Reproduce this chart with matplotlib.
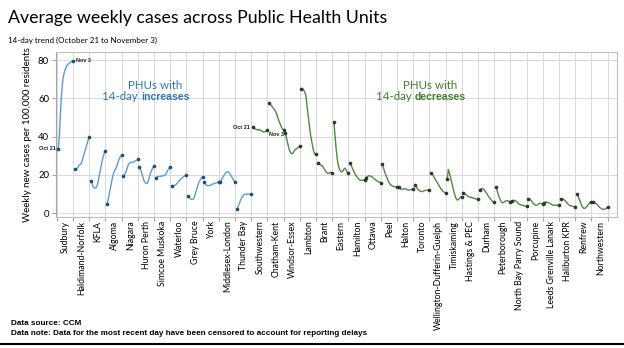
import matplotlib.pyplot as plt
from matplotlib.lines import Line2D
import numpy as np

plt.rcParams["font.family"] = ["Lato", "DejaVu Sans"]
BOLD_FAMILY = ["Liberation Sans", "DejaVu Sans"]

# PHUs with 14-day increases (Oct 21 .. Nov 3, weekly cases per 100k)
inc_phus = ["Sudbury", "Haldimand-Norfolk", "KFLA", "Algoma", "Niagara", "Huron Perth",
            "Simcoe Muskoka", "Waterloo", "Grey Bruce", "York", "Middlesex-London", "Thunder Bay"]
inc_trend = [
    [33.5, 42, 55, 64, 70, 73, 75, 76.5, 77.5, 78, 78.5, 79, 79.3, 79.5],
    [23, 22.5, 23, 24, 25, 25.3, 26, 28, 30, 32, 34, 36, 38, 40],
    [17, 15.5, 14, 13.2, 13, 13.5, 15, 18, 21, 24, 27, 29.5, 31.5, 32.6],
    [4.7, 7, 10, 13, 16, 19, 21, 22.5, 23.5, 25, 27, 28.5, 29.5, 30.3],
    [19.3, 19.8, 21, 22.5, 24.5, 25.8, 26.3, 26.5, 26.5, 26.7, 27, 27.3, 27.6, 28],
    [24.2, 23, 21, 19, 17, 16, 15.5, 15.6, 17, 19, 21, 22.5, 23.8, 24.6],
    [18.5, 18.8, 19, 19.2, 19.2, 19.3, 19.4, 19.5, 19.7, 20.2, 21.3, 22.5, 23.5, 24.2],
    [14.3, 14.3, 14.4, 14.6, 15, 15.8, 16.5, 17.2, 17.8, 18.3, 18.8, 19.2, 19.6, 19.9],
    [8.9, 8, 7.5, 7.2, 7.2, 7.5, 9, 11, 13, 15, 16.5, 17.5, 18.5, 19],
    [16.4, 15.2, 14.6, 14.3, 14.3, 14.4, 14.6, 15, 15.3, 15.5, 15.6, 15.8, 16.1, 16.4],
    [16.4, 17.5, 18.5, 19.5, 20.5, 21.2, 21.6, 21.5, 21, 20, 19, 18, 17, 16.4],
    [1.9, 3, 4.5, 6, 7.3, 8.5, 9.3, 9.8, 9.9, 9.9, 9.9, 9.9, 9.9, 9.9],
]

# PHUs with 14-day decreases
dec_phus = ["Southwestern", "Chatham-Kent", "Windsor-Essex", "Lambton", "Brant", "Eastern",
            "Hamilton", "Ottawa", "Peel", "Halton", "Toronto", "Wellington-Dufferin-Guelph",
            "Timiskaming", "Hastings & PEC", "Durham", "Peterborough", "North Bay Parry Sound",
            "Porcupine", "Leeds Grenville Lanark", "Haliburton KPR", "Renfrew", "Northwestern"]
dec_trend = [
    [44.8, 44.5, 44, 43.8, 43.5, 43.4, 43.6, 43.2, 42.8, 42.5, 42.4, 42.6, 43, 43.4],
    [57.7, 57, 56.2, 55.5, 54.7, 54, 53, 51.5, 49.5, 48, 46.5, 45, 44, 43.4],
    [42, 39.5, 37, 34.5, 32.5, 31.3, 31, 31.5, 32.5, 33.3, 33.5, 34, 34.5, 35],
    [64.7, 65.2, 64.3, 63, 61.5, 56, 51, 46, 41.5, 38, 35, 32, 31, 30.8],
    [26, 26.5, 25.5, 25, 24.8, 24, 23, 22, 21.2, 20.7, 20.8, 21.3, 21, 20.7],
    [47.7, 41, 34, 28.5, 25, 23, 22, 21.5, 22, 23, 23.5, 22.5, 21.3, 20.7],
    [26.3, 25, 23.5, 22.3, 21, 20, 19, 18.2, 17.6, 17.2, 17, 17.2, 17.3, 17.3],
    [18.5, 19, 19.4, 19.5, 19.3, 19, 18.5, 18, 17.5, 17, 16.7, 16.4, 16.1, 15.9],
    [25.4, 23.5, 21.5, 19.9, 18.5, 17, 15.8, 15, 14.5, 14.1, 13.9, 13.8, 13.6, 13.4],
    [13.4, 12.9, 12.5, 12.3, 12.5, 12.8, 12.7, 12.4, 12.1, 12, 12, 12.2, 12.4, 12.5],
    [14.8, 14, 13, 12.3, 11.8, 11.4, 11.2, 11.3, 11.6, 11.8, 11.9, 12, 12, 12],
    [21, 20.3, 19.5, 18.5, 17.5, 16.5, 15.5, 14.5, 13.5, 12.5, 11.8, 11.2, 10.8, 10.5],
    [17.6, 22.8, 21, 18.5, 16, 13.5, 11, 9, 7.5, 6.8, 7, 7.8, 8.3, 8.5],
    [10.6, 10.2, 9.7, 9.2, 8.8, 8.5, 8.3, 8.2, 8, 7.8, 7.6, 7.4, 7.3, 7.2],
    [12, 12.5, 12.9, 12.7, 12.2, 11.4, 10.5, 9.6, 8.7, 7.9, 7.1, 6.4, 5.9, 5.6],
    [13.8, 12, 10, 8.3, 6.8, 5.8, 5.4, 5.5, 6, 6.4, 6.5, 6.3, 6.1, 5.9],
    [6.2, 6.5, 6.7, 6.5, 6, 5.3, 4.8, 4.4, 4.2, 4.1, 4, 3.8, 3.6, 3.5],
    [7.3, 7.5, 7, 6.3, 5.5, 4.8, 4.3, 4, 4.2, 4.6, 5, 5.1, 5, 4.8],
    [5.5, 5.7, 5.8, 5.6, 5.3, 5, 4.6, 4.3, 4.1, 4, 4.1, 4.2, 4.1, 4],
    [7.2, 7.3, 7.3, 7, 6.5, 5.8, 5, 4.4, 4, 3.8, 3.6, 3.5, 3.4, 3.3],
    [9.9, 9, 7.5, 6, 4.5, 3.2, 2.5, 2.4, 2.8, 3.5, 4.3, 5, 5.5, 5.9],
    [5.9, 5.7, 5.3, 4.8, 4.2, 3.5, 2.9, 2.5, 2.2, 1.9, 1.9, 2.2, 2.6, 3],
]

y_ticks = [0, 20, 40, 60, 80]

BLUE = "#5B9BD5"
BLUE_TXT = "#2E75B6"
GREEN = "#4E8A3E"
GREEN_TXT = "#3F7F2F"
GRID = "#D9D9D9"

W, H = 624, 348
fig = plt.figure(figsize=(W / 100, H / 100), dpi=100)
ax = fig.add_axes([56 / W, 1 - 216.5 / H, (617 - 56) / W, (216.5 - 52) / H])

all_phus = inc_phus + dec_phus
n = len(all_phus)
offs = np.linspace(0.1, 1.0, 14)

for i, vals in enumerate(inc_trend + dec_trend):
    col = BLUE if i < len(inc_phus) else GREEN
    dot = "#1F4E79" if i < len(inc_phus) else "#333333"
    xs = i + offs
    ax.plot(xs, vals, color=col, lw=1.0, zorder=3)
    ax.plot([xs[0], xs[-1]], [vals[0], vals[-1]], "o", ms=1.6, color=dot, zorder=4)

# date markers on first series of each group
lab = dict(fontsize=4, fontweight="bold", color="#222222", family=BOLD_FAMILY)
s = inc_trend[0]
ax.annotate("Oct 21", (offs[0], s[0]), xytext=(-2, 0), textcoords="offset points",
            ha="right", va="center", **lab)
ax.annotate("Nov 3", (offs[-1], s[-1]), xytext=(2, 0), textcoords="offset points",
            ha="left", va="center", **lab)
k = len(inc_phus)
s = dec_trend[0]
ax.annotate("Oct 21", (k + offs[0], s[0]), xytext=(-2, 0), textcoords="offset points",
            ha="right", va="center", **lab)
ax.annotate("Nov 3", (k + offs[-1], s[-1]), xytext=(1, -3), textcoords="offset points",
            ha="left", va="center", **lab)

# group labels
ax.text(6.09, 66.6, "PHUs with", color=BLUE_TXT, fontsize=8.3, ha="center", va="center")
ax.text(5.2, 60.8, "14-day ", color=BLUE_TXT, fontsize=8.3, ha="right", va="center")
ax.text(5.2, 60.8, "increases", color=BLUE_TXT, fontsize=7.6, fontweight="bold",
        family=BOLD_FAMILY, ha="left", va="center")
ax.text(23.04, 66.6, "PHUs with", color=GREEN_TXT, fontsize=8.3, ha="center", va="center")
ax.text(22.1, 60.8, "14-day ", color=GREEN_TXT, fontsize=8.3, ha="right", va="center")
ax.text(22.1, 60.8, "decreases", color=GREEN_TXT, fontsize=7.6, fontweight="bold",
        family=BOLD_FAMILY, ha="left", va="center")

ax.set_xlim(-0.05, 34.58)
ax.set_ylim(-1.8, 84.2)
ax.set_yticks(y_ticks)
ax.set_xticks(np.arange(0, n + 1))
ax.set_xticklabels([])
ax.set_xticks(np.arange(n) + 0.55, minor=True)
ax.set_xticklabels(all_phus, minor=True, rotation=90, fontsize=6.3)
ax.tick_params(axis="x", which="major", length=3, color="#A6A6A6")
ax.tick_params(axis="x", which="minor", length=0, pad=3)
ax.tick_params(axis="y", length=3, color="#A6A6A6", labelsize=6.8, pad=2)
ax.grid(True, color=GRID, lw=0.7, zorder=0)
for sp in ax.spines.values():
    sp.set_color("#BFBFBF")
    sp.set_linewidth(0.8)
ax.spines["left"].set_color("#A6A6A6")
ax.set_ylabel("Weekly new cases per 100,000 residents", fontsize=7, labelpad=4)

fig.text(8 / W, 1 - 18 / H, "Average weekly cases across Public Health Units",
         fontsize=12.8, va="center", ha="left")
fig.text(8 / W, 1 - 40 / H, "14-day trend (October 21 to November 3)",
         fontsize=5.8, va="center", ha="left")
fig.text(11 / W, 1 - 323.5 / H, "Data source: CCM", fontsize=5.9, fontweight="bold",
         family=BOLD_FAMILY, va="center", ha="left")
fig.text(11 / W, 1 - 333.5 / H,
         "Data note: Data for the most recent day have been censored to account for reporting delays",
         fontsize=5.9, fontweight="bold", family=BOLD_FAMILY, va="center", ha="left")
fig.add_artist(Line2D([0, 1], [1 - 344 / H, 1 - 344 / H], color="black", lw=1.5))

fig.savefig("out.png", dpi=100)
